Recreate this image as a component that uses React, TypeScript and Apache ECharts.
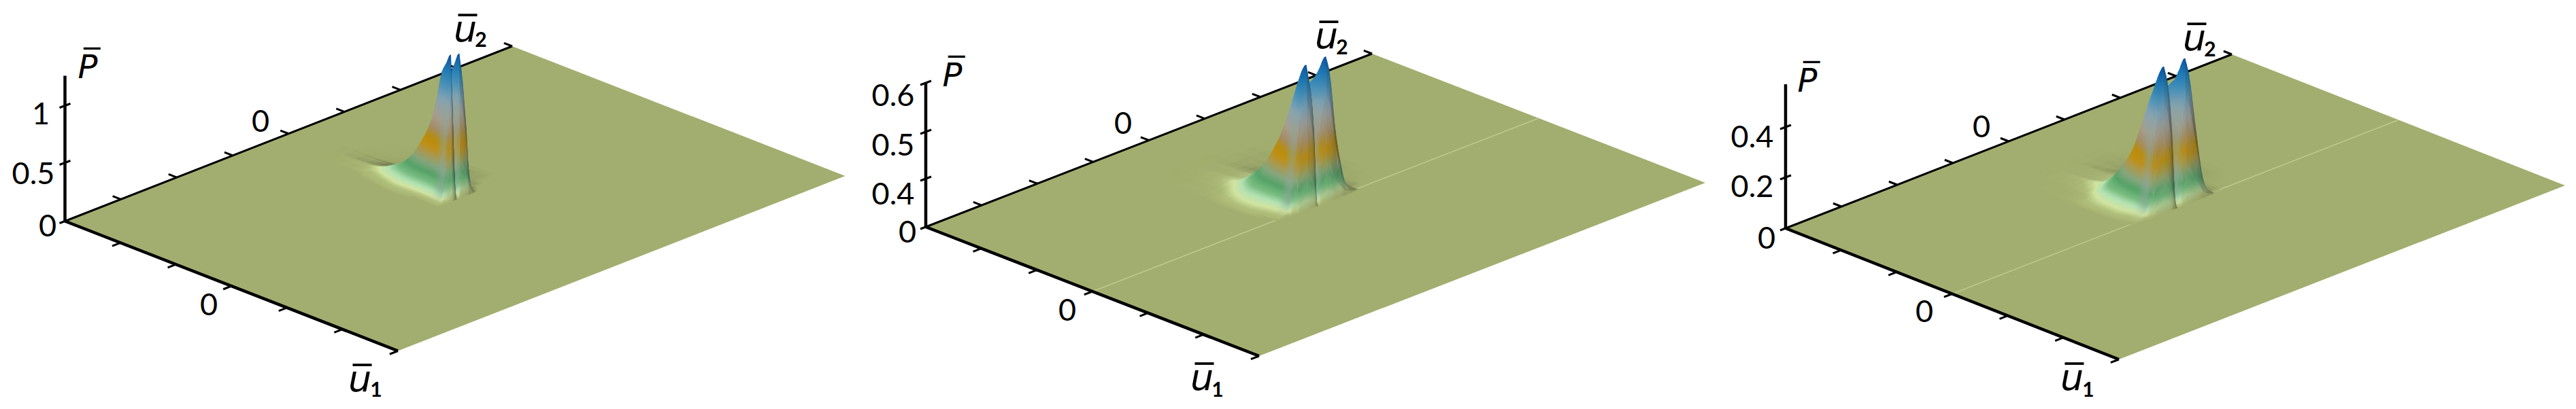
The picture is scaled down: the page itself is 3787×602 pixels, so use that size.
import React, { useEffect, useRef } from "react";
import * as echarts from "echarts";

// ---------- data ----------
const u1Ticks = [-3, -2, -1, 0, 1, 2, 3];
const u2Ticks = [-4, -3, -2, -1, 0, 1, 2, 3, 4];
const pTicksA = [0, 0.5, 1];
const pTicksB = [0, 0.4, 0.5, 0.6];
const pTicksC = [0, 0.2, 0.4];
// where each P tick sits along the axis, in axis divisions (214 = whole axis)
const pTickDivA = [0, 86, 170];
const pTickDivB = [0, 71, 140, 212];
const pTickDivC = [0, 75, 149];

// Surface heights, in P-axis divisions; rows follow u1 nodes, columns u2 nodes.
const u1NodesA = [-2.2, -1.6, -1.3, -1, -0.76, -0.51, -0.35, -0.27, -0.15, -0.07, 0, 0.03];
const u2NodesA = [-0.4, -0.32, -0.26, -0.2, -0.17, -0.13, -0.08, -0.05, -0.02, 0, 0.02, 0.07, 0.13, 0.18, 0.2, 0.24, 0.3, 0.36, 0.45, 0.6, 0.9];
const heightsA = [
  [0, 0, 0, 0, 0, 0, 0, 0, 0, 0, 0, 0, 0, 0, 0, 0, 0, 0, 0, 0, 0],
  [0, 0, 0, 0.5, 0.8, 1, 1.5, 1.8, 2, 2, 1.8, 1.4, 1, 0.8, 0.6, 0.5, 0.4, 0.3, 0.2, 0.1, 0],
  [0, 0, 1, 2, 3, 5, 6, 7, 7, 6.5, 6, 5, 3.5, 2.5, 2, 1.5, 1.2, 1, 0.8, 0.5, 0],
  [0, 1, 3, 7, 10, 15, 19, 20, 20, 19, 18, 15, 10, 6, 4.5, 3.5, 2.5, 2, 1.5, 1, 0],
  [0, 2, 6, 14, 20, 30, 37, 38, 38, 37, 35, 30, 20, 12, 9, 6, 4, 3, 2.5, 1.5, 0],
  [0, 1, 5, 18, 32, 55, 73, 74, 73, 71, 68, 60, 42, 25, 18, 10, 6, 4, 3, 1.5, 0],
  [0, 0, 4, 18, 36, 72, 105, 105, 103, 100, 98, 90, 65, 38, 26, 12, 6, 4, 2.5, 1, 0],
  [0, 0, 4, 20, 42, 85, 131, 130, 128, 125, 122, 115, 85, 50, 35, 14, 6, 3, 2, 1, 0],
  [0, 0, 5, 25, 55, 110, 185, 175, 165, 155, 160, 175, 135, 85, 60, 20, 5, 2, 1, 0, 0],
  [0, 0, 6, 30, 68, 125, 200, 170, 130, 100, 130, 195, 160, 105, 80, 28, 5, 1, 0, 0, 0],
  [0, 0, 7, 35, 75, 132, 214, 140, 50, 15, 50, 211, 169, 115, 92, 34, 5, 0, 0, 0, 0],
  [0, 0, 0, 0, 0, 0, 0, 0, 0, 0, 0, 0, 0, 0, 0, 0, 0, 0, 0, 0, 0],
];

const u1NodesB = [-2.1, -1.5, -1.126, -0.857, -0.65, -0.49, -0.367, -0.245, -0.12, -0.06, 0, 0.04];
const u2NodesB = [-0.85, -0.72, -0.6, -0.51, -0.45, -0.38, -0.32, -0.25, -0.17, -0.12, -0.07, -0.02, 0, 0.02, 0.07, 0.12, 0.18, 0.23, 0.28, 0.35, 0.44, 0.52, 0.65, 0.74, 0.9, 1.3];
const heightsB = [
  [0, 0, 0, 0, 0, 0, 0, 0, 0, 0, 0, 0, 0, 0, 0, 0, 0, 0, 0, 0, 0, 0, 0, 0, 0, 0],
  [0, 0.2, 0.5, 0.8, 1.2, 1.6, 2, 2.5, 3, 3, 3, 3, 3, 3, 3, 2.8, 2.5, 2.2, 2, 1.7, 1.4, 1.1, 0.8, 0.5, 0.2, 0],
  [0, 0.8, 2, 3, 4, 5.5, 7, 8.5, 9, 9, 9, 9, 9, 9, 8.5, 8, 7, 6, 5, 4, 3.3, 2.7, 2, 1.3, 0.7, 0],
  [0, 2, 5, 9, 13, 18, 23, 27, 30, 30, 30, 30, 30, 29, 29, 28, 26, 22, 17, 12, 8, 5, 3, 2, 1, 0],
  [0, 3, 8, 15, 23, 33, 42, 50, 53, 54, 54, 54, 53, 53, 52, 51, 48, 41, 32, 21, 12, 6, 3, 2, 1, 0],
  [0, 3, 8, 15, 27, 44, 62, 76, 84, 85, 85, 85, 84, 84, 83, 82, 78, 65, 50, 32, 17, 7, 3, 1.5, 0.5, 0],
  [0, 2, 7, 14, 28, 50, 78, 100, 112, 113, 113, 113, 112, 112, 111, 110, 105, 88, 68, 42, 22, 8, 3, 1.2, 0.4, 0],
  [0, 1, 5, 12, 28, 60, 100, 130, 149, 150, 150, 150, 148, 148, 148, 146, 140, 118, 92, 58, 28, 10, 3, 1, 0.3, 0],
  [0, 0, 4, 10, 30, 72, 130, 168, 186, 185, 182, 176, 170, 175, 178, 182, 182, 155, 125, 78, 38, 13, 3, 1, 0, 0],
  [0, 0, 3, 9, 32, 78, 150, 185, 203, 195, 180, 150, 120, 150, 175, 190, 203, 180, 150, 92, 45, 16, 3, 0, 0, 0],
  [0, 0, 3, 8, 33, 80, 161, 195, 211, 185, 154, 85, 10, 85, 150, 190, 212, 195, 163, 100, 50, 18, 3, 0, 0, 0],
  [0, 0, 0, 0, 0, 0, 0, 0, 0, 0, 0, 0, 0, 0, 0, 0, 0, 0, 0, 0, 0, 0, 0, 0, 0, 0],
];

const u1NodesC = [-2, -1.45, -1.09, -0.87, -0.66, -0.5, -0.38, -0.257, -0.135, -0.07, 0, 0.04];
const u2NodesC = [-0.85, -0.73, -0.56, -0.49, -0.43, -0.34, -0.27, -0.21, -0.15, -0.1, -0.04, 0, 0.04, 0.1, 0.17, 0.24, 0.33, 0.415, 0.49, 0.57, 0.67, 0.85, 1.3];
const heightsC = [
  [0, 0, 0, 0, 0, 0, 0, 0, 0, 0, 0, 0, 0, 0, 0, 0, 0, 0, 0, 0, 0, 0, 0],
  [0, 0.2, 0.5, 0.8, 1.2, 1.8, 2.4, 3, 3, 3, 3, 3, 3, 3, 2.6, 2.2, 1.9, 1.5, 1.2, 0.9, 0.6, 0.3, 0],
  [0, 0.8, 2, 3, 4, 6, 8, 9, 9, 9, 9, 9, 9, 8.5, 8, 6.5, 5, 4, 3, 2.2, 1.5, 0.8, 0],
  [0, 2, 6, 11, 15, 20, 24, 26, 27, 27, 27, 26, 26, 25, 24, 20, 14, 9, 5, 3, 2, 1, 0],
  [0, 3, 11, 22, 30, 42, 50, 53, 54, 54, 54, 53, 52, 51, 49, 41, 27, 16, 8, 4, 2, 1, 0],
  [0, 3, 12, 27, 42, 65, 76, 82, 83, 83, 83, 82, 81, 80, 77, 64, 42, 24, 10, 4, 2, 1, 0],
  [0, 3, 13, 32, 52, 85, 105, 116, 117, 117, 116, 115, 114, 114, 110, 92, 60, 33, 13, 4, 1.5, 0.6, 0],
  [0, 2, 12, 35, 62, 115, 140, 153, 153, 153, 152, 150, 150, 150, 148, 125, 82, 44, 16, 5, 1, 0.3, 0],
  [0, 1, 10, 38, 75, 150, 172, 182, 182, 180, 175, 170, 175, 178, 180, 158, 105, 55, 20, 6, 1, 0, 0],
  [0, 1, 9, 40, 85, 170, 190, 200, 195, 180, 150, 120, 150, 180, 200, 175, 118, 62, 23, 7, 1, 0, 0],
  [0, 0, 9, 43, 91, 182, 205, 213, 190, 150, 56, 5, 56, 145, 213, 187, 127, 68, 26, 8, 0, 0, 0],
  [0, 0, 0, 0, 0, 0, 0, 0, 0, 0, 0, 0, 0, 0, 0, 0, 0, 0, 0, 0, 0, 0, 0],
];

// pale crease along u1 = 0 (u2 ranges)
const creaseB = [[-4, -0.72], [0.74, 4]];
const creaseC = [[-4, -0.73], [0.67, 4]];

// colour by height
const colourHeights = [0, 0.012, 0.03, 0.06, 0.1, 0.16, 0.22, 0.28, 0.34, 0.4, 0.46, 0.55, 0.68, 0.8, 0.9, 1];
const colourValues = ["#a2ae6f", "#a8b676", "#c8da9a", "#aad8ac", "#74b47c", "#4f9a62", "#7f9e78", "#a2924e", "#b8880e", "#ae860f", "#9c8660", "#a09688", "#7e9cac", "#3f88b0", "#1a72ac", "#0a4ea0"];

// ---------- layout of each panel ----------
const panels = [
  {
    O: [95.5, 325.5], a: [489.5, 191], b: [657.5, -257.5], top: 214,
    u1: u1NodesA, u2: u2NodesA, h: heightsA, crease: [] as number[][],
    pTicks: pTicksA, pDiv: pTickDivA,
    pLabelPos: [[70, 331], [49, 254], [60, 166]],
    pName: [129, 98], u2Zero: [383, 177], u1Zero: [307, 447],
    u2Name: [684, 42], u2Sub: [707, 57], u1Name: [529, 557], u1Sub: [553, 572],
  },
  {
    O: [1361, 334], a: [490, 190], b: [656, -255], top: 212,
    u1: u1NodesB, u2: u2NodesB, h: heightsB, crease: creaseB,
    pTicks: pTicksB, pDiv: pTickDivB,
    pLabelPos: [[1334, 340], [1313, 284], [1313, 212], [1313, 139]],
    pName: [1400, 110], u2Zero: [1651, 180], u1Zero: [1569, 455],
    u2Name: [1950, 52], u2Sub: [1973, 68], u1Name: [1767, 555], u1Sub: [1790, 572],
  },
  {
    O: [2625, 336], a: [490, 193], b: [656, -256], top: 212,
    u1: u1NodesC, u2: u2NodesC, h: heightsC, crease: creaseC,
    pTicks: pTicksC, pDiv: pTickDivC,
    pLabelPos: [[2597, 349], [2576, 273], [2576, 200]],
    pName: [2657, 118], u2Zero: [2913, 185], u1Zero: [2829, 457],
    u2Name: [3226, 55], u2Sub: [3249, 71], u1Name: [3046, 555], u1Sub: [3070, 572],
  },
];
type Panel = (typeof panels)[number];

const PEAK = 214;
const MESH = 3; // smoothing of the drawn mesh between the nodes

function hex(c: string) {
  return [parseInt(c.slice(1, 3), 16), parseInt(c.slice(3, 5), 16), parseInt(c.slice(5, 7), 16)];
}
const clamp01 = (v: number) => Math.max(0, Math.min(1, v));
const ramp = colourValues.map(hex);
const ground = ramp[0];
const flankLight = hex("#869f94");
const flankDark = hex("#55746c");
// q = how far the cell faces sideways along u2 (-1..1); near = how close it is to the peaks' front
function colourAt(z: number, shade: number, q: number, near: number) {
  const h = clamp01(z / PEAK);
  let k = 0;
  while (k < colourHeights.length - 2 && h > colourHeights[k + 1]) k++;
  const f = (h - colourHeights[k]) / (colourHeights[k + 1] - colourHeights[k]);
  const tone = q > 0 ? flankLight : flankDark;
  const flank = near * Math.min(0.55, Math.abs(q) * 0.7) * clamp01((0.75 - h) / 0.15) * clamp01(h / 0.1);
  // the pale band only shows on the flank that faces the viewer
  const low = clamp01(1 - h / 0.12) * (1 - clamp01(q * 5));
  const rgb = ramp[k].map((v, n) => {
    let c = v + (ramp[k + 1][n] - v) * f;
    c += (ground[n] - c) * low;
    return (c + (tone[n] - c) * flank) * shade;
  });
  return `rgb(${rgb.map((v) => Math.round(Math.min(255, v))).join(",")})`;
}

function project(p: Panel, u1: number, u2: number, z: number) {
  return [
    p.O[0] + ((u1 + 3) / 6) * p.a[0] + ((u2 + 4) / 8) * p.b[0],
    p.O[1] + ((u1 + 3) / 6) * p.a[1] + ((u2 + 4) / 8) * p.b[1] - z,
  ];
}

// monotone cubic through the nodes, the surface's equivalent of a smooth line
function monotone(xs: number[], ys: number[], cusp: boolean) {
  const n = xs.length;
  const d = xs.slice(0, -1).map((x, i) => (ys[i + 1] - ys[i]) / (xs[i + 1] - x));
  const mL = new Array(n).fill(0);
  const mR = new Array(n).fill(0);
  for (let i = 1; i < n - 1; i++) {
    if (d[i - 1] * d[i] > 0) {
      mL[i] = mR[i] = (2 * d[i - 1] * d[i]) / (d[i - 1] + d[i]);
    } else if (cusp && d[i - 1] > 0 && d[i] < 0) {
      mL[i] = d[i - 1];
      mR[i] = d[i];
    }
  }
  return (x: number) => {
    let i = 0;
    while (i < n - 2 && x > xs[i + 1]) i++;
    const w = xs[i + 1] - xs[i];
    const t = (x - xs[i]) / w;
    const t2 = t * t, t3 = t2 * t;
    return (2 * t3 - 3 * t2 + 1) * ys[i] + (t3 - 2 * t2 + t) * w * mR[i] + (-2 * t3 + 3 * t2) * ys[i + 1] + (t3 - t2) * w * mL[i + 1];
  };
}
function fine(nodes: number[]) {
  const out: number[] = [];
  nodes.forEach((v, i) => {
    if (i === nodes.length - 1) out.push(v);
    else for (let k = 0; k < MESH; k++) out.push(v + ((nodes[i + 1] - v) * k) / MESH);
  });
  return out;
}
function mesh(p: Panel) {
  const fu1 = fine(p.u1), fu2 = fine(p.u2);
  const across = p.h.map((row) => {
    const f = monotone(p.u2, row, true);
    return fu2.map((v) => f(v));
  });
  const z: number[][] = fu1.map(() => new Array(fu2.length).fill(0));
  fu2.forEach((_, j) => {
    const f = monotone(p.u1, across.map((r) => r[j]), false);
    fu1.forEach((v, i) => (z[i][j] = Math.max(0, f(v))));
  });
  const cells: number[][] = [];
  for (let i = 0; i < fu1.length - 1; i++)
    for (let j = fu2.length - 2; j >= 0; j--)
      if (z[i][j] + z[i + 1][j] + z[i][j + 1] + z[i + 1][j + 1] > 0.1) cells.push([i, j]);
  return { fu1, fu2, z, cells };
}

function quadStyle(pts: number[][], zs: number[], s1: number, s2: number, near: number) {
  const q = s2 / Math.sqrt(1 + s1 * s1 + s2 * s2);
  const shade = q < 0 ? Math.max(0.72, 1 + 1.2 * q) : Math.min(1.05, 1 + 0.25 * q);
  const zMin = Math.min(...zs);
  const zMax = Math.max(...zs);
  if (zMax - zMin < 0.6) {
    const c = colourAt((zMin + zMax) / 2, shade, q, near);
    return { fill: c, stroke: c, lineWidth: 0.6 };
  }
  const cx = pts.reduce((t, v) => t + v[0], 0) / 4;
  const cy = pts.reduce((t, v) => t + v[1], 0) / 4;
  const cz = zs.reduce((t, v) => t + v, 0) / 4;
  let sxx = 0, syy = 0, sxy = 0, sxz = 0, syz = 0;
  pts.forEach((v, n) => {
    const dx = v[0] - cx, dy = v[1] - cy, dz = zs[n] - cz;
    sxx += dx * dx; syy += dy * dy; sxy += dx * dy; sxz += dx * dz; syz += dy * dz;
  });
  const det = sxx * syy - sxy * sxy;
  let gx = 0, gy = -1;
  if (Math.abs(det) > 1e-3) {
    gx = (sxz * syy - syz * sxy) / det;
    gy = (syz * sxx - sxz * sxy) / det;
  } else {
    gy = -(zMax - zMin) / Math.max(1, Math.max(...pts.map((v) => v[1])) - Math.min(...pts.map((v) => v[1])));
  }
  const g2 = gx * gx + gy * gy || 1;
  const x = cx + (gx * (zMin - cz)) / g2;
  const y = cy + (gy * (zMin - cz)) / g2;
  const x2 = cx + (gx * (zMax - cz)) / g2;
  const y2 = cy + (gy * (zMax - cz)) / g2;
  const colorStops = [0, 0.25, 0.5, 0.75, 1].map((o) => ({ offset: o, color: colourAt(zMin + (zMax - zMin) * o, shade, q, near) }));
  const grad = { type: "linear", global: true, x, y, x2, y2, colorStops };
  return { fill: grad, stroke: grad, lineWidth: 0.6 };
}

function groundSeries(p: Panel, z: number) {
  return {
    type: "custom",
    coordinateSystem: "cartesian2d",
    silent: true,
    clip: false,
    z,
    data: [[-3, -4], [3, -4], [3, 4], [-3, 4]],
    renderItem: (params: any, api: any) => {
      if (params.dataIndex !== 0) return null;
      const pts = [[-3, -4], [3, -4], [3, 4], [-3, 4]].map(([a, b]) => api.coord(project(p, a, b, 0)));
      return { type: "polygon", shape: { points: pts }, style: { fill: colourValues[0] } };
    },
  };
}

function surfaceSeries(p: Panel, z: number) {
  const m = mesh(p);
  return {
    type: "custom",
    coordinateSystem: "cartesian2d",
    silent: true,
    clip: false,
    z,
    progressive: 0,
    data: m.cells,
    renderItem: (_: any, api: any) => {
      const i = api.value(0), j = api.value(1);
      const nodes = [[i, j], [i + 1, j], [i + 1, j + 1], [i, j + 1]];
      const zs = nodes.map(([a, b]) => m.z[a][b]);
      const pts = nodes.map(([a, b], n) => api.coord(project(p, m.fu1[a], m.fu2[b], zs[n])));
      const s1 = (zs[1] + zs[2] - zs[0] - zs[3]) / 2 / ((m.fu1[i + 1] - m.fu1[i]) * 88);
      const s2 = (zs[2] + zs[3] - zs[0] - zs[1]) / 2 / ((m.fu2[j + 1] - m.fu2[j]) * 88);
      const near = clamp01((m.fu1[i] + 0.2) / 0.15);
      return { type: "polygon", shape: { points: pts }, style: quadStyle(pts, zs, s1, s2, near) };
    },
  };
}

function creaseSeries(p: Panel, z: number) {
  return {
    type: "custom",
    coordinateSystem: "cartesian2d",
    silent: true,
    clip: false,
    z,
    data: p.crease.map((c) => [c[0], c[1]]),
    renderItem: (_: any, api: any) => {
      const s = api.coord(project(p, 0, api.value(0), 0));
      const e = api.coord(project(p, 0, api.value(1), 0));
      return { type: "line", shape: { x1: s[0], y1: s[1], x2: e[0], y2: e[1] }, style: { stroke: "#bdca8e", lineWidth: 1.5 } };
    },
  };
}

// kind: 0 = u1 tick, 1 = u2 tick, 2 = P tick, 3 = u1 line, 4 = u2 line, 5 = P line
function axisSeries(p: Panel, z: number) {
  const items: number[][] = [[3, 0], [4, 0], [5, 0]];
  u1Ticks.slice(1).forEach((t) => items.push([0, t]));
  u2Ticks.slice(1).forEach((t) => items.push([1, t]));
  p.pDiv.forEach((t) => items.push([2, t]));
  const la = Math.hypot(p.a[0], p.a[1]);
  const lb = Math.hypot(p.b[0], p.b[1]);
  return {
    type: "custom",
    coordinateSystem: "cartesian2d",
    silent: true,
    clip: false,
    z,
    data: items,
    renderItem: (_: any, api: any) => {
      const kind = api.value(0), v = api.value(1);
      let s: number[], e: number[], w = 3;
      if (kind === 0) {
        s = project(p, v, -4, 0);
        e = [s[0] - (p.b[0] / lb) * 13, s[1] - (p.b[1] / lb) * 13];
      } else if (kind === 1) {
        s = project(p, -3, v, 0);
        e = [s[0] - (p.a[0] / la) * 13, s[1] - (p.a[1] / la) * 13];
      } else if (kind === 2) {
        const c = project(p, -3, -4, v);
        s = [c[0] - 8, c[1] + 3];
        e = v === 0 ? c : [c[0] + 8, c[1] - 3];
      } else if (kind === 3) {
        s = project(p, -3, -4, 0);
        e = project(p, 3, -4, 0);
        w = 4.5;
      } else if (kind === 4) {
        s = project(p, -3, -4, 0);
        e = project(p, -3, 4, 0);
      } else {
        s = project(p, -3, -4, 0);
        e = project(p, -3, -4, p.top);
        w = 4.5;
      }
      const a = api.coord(s), b = api.coord(e);
      return { type: "line", shape: { x1: a[0], y1: a[1], x2: b[0], y2: b[1] }, style: { stroke: "#000", lineWidth: w, lineCap: "butt" } };
    },
  };
}

function labelSeries(p: Panel, z: number) {
  const digit = `45px Lato`;
  const letter = `oblique 48px "DejaVu Sans"`;
  const letterU = `oblique 54px "DejaVu Sans"`;
  const sub = `bold 30px Lato`;
  const labels: { t: string; pos: number[]; font: string }[] = [
    ...p.pTicks.map((v, n) => ({ t: String(v), pos: p.pLabelPos[n], font: digit })),
    { t: "0", pos: p.u2Zero, font: digit },
    { t: "0", pos: p.u1Zero, font: digit },
    { t: "P\u0305", pos: p.pName, font: letter },
    { t: "u\u0305", pos: p.u2Name, font: letterU },
    { t: "2", pos: p.u2Sub, font: sub },
    { t: "u\u0305", pos: p.u1Name, font: letterU },
    { t: "1", pos: p.u1Sub, font: sub },
  ];
  return {
    type: "custom",
    coordinateSystem: "cartesian2d",
    silent: true,
    clip: false,
    z,
    data: labels.map((_, n) => [n]),
    encode: { x: 0 },
    renderItem: (_: any, api: any) => {
      const l = labels[api.value(0)];
      const c = api.coord(l.pos);
      return { type: "text", x: c[0], y: c[1], style: { text: l.t, font: l.font, fill: "#000", align: "center", verticalAlign: "middle" } };
    },
  };
}

export default function App() {
  const ref = useRef<HTMLDivElement>(null);
  useEffect(() => {
    document.body.style.margin = "0";
    document.body.style.overflow = "hidden";
    const chart = echarts.init(ref.current!, undefined, { renderer: "svg" });
    const series: any[] = [];
    panels.forEach((p, n) => {
      const base = n * 10;
      series.push(groundSeries(p, base + 1), creaseSeries(p, base + 2), axisSeries(p, base + 3), surfaceSeries(p, base + 4), labelSeries(p, base + 5));
    });
    chart.setOption({
      animation: false,
      backgroundColor: "#fff",
      tooltip: { show: false },
      grid: { left: 0, right: 0, top: 0, bottom: 0 },
      xAxis: { type: "value", min: 0, max: 3787, show: false },
      yAxis: { type: "value", min: 0, max: 602, inverse: true, show: false },
      series,
    });
    return () => chart.dispose();
  }, []);
  return <div ref={ref} style={{ width: 3787, height: 602 }} />;
}
